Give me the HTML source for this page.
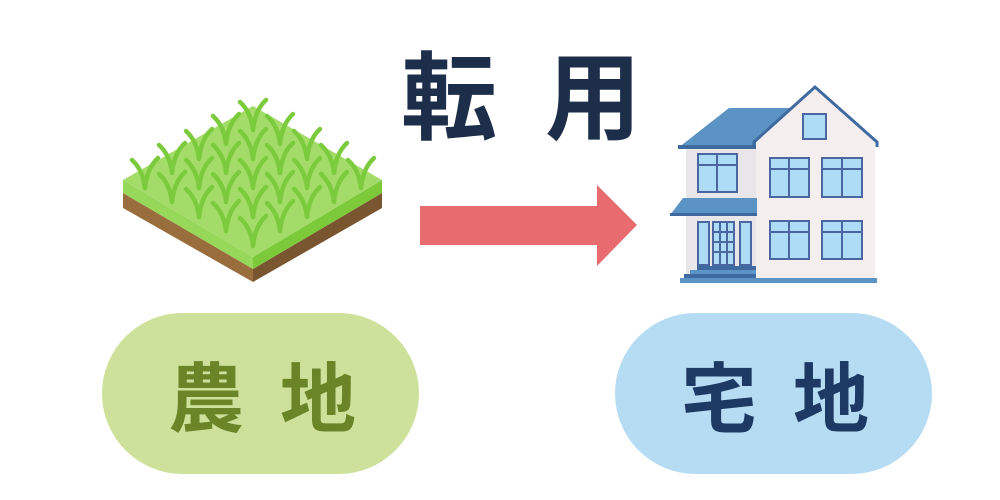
<!DOCTYPE html>
<html><head><meta charset="utf-8"><style>
html,body{margin:0;padding:0;background:#fff;width:1000px;height:500px;overflow:hidden}
svg{display:block}
text{font-family:"Liberation Sans","Noto Sans CJK JP",sans-serif;font-weight:bold}
</style></head><body>
<svg width="1000" height="500" viewBox="0 0 1000 500">
<text x="401" y="132" font-size="96" fill="#1c2e4a" letter-spacing="48">転用</text>
<!-- grass tile -->
<polygon points="123,193 253,269 253,282 123,208" fill="#9a6e3c"/>
<polygon points="253,269 382,193 382,208 253,282" fill="#7a5630"/>
<polygon points="123,180 253,257 253,269 123,193" fill="#97d85a"/>
<polygon points="253,257 382,180 382,193 253,269" fill="#7cc93a"/>
<polygon points="123,180 253,106 382,180 253,257" fill="#a3dc68"/>
<defs><g id="bl" stroke="#7ccb3e" stroke-width="4.5" fill="none" stroke-linecap="round"><path d="M0,0 q-2,-18 -13,-28 M0,0 q2,-20 13,-30"/></g></defs>
<use href="#bl" x="253" y="130"/><use href="#bl" x="226" y="144"/><use href="#bl" x="199" y="159"/><use href="#bl" x="172" y="173"/><use href="#bl" x="145" y="188"/>
<use href="#bl" x="280" y="144"/><use href="#bl" x="253" y="159"/><use href="#bl" x="226" y="173"/><use href="#bl" x="199" y="188"/><use href="#bl" x="172" y="202"/>
<use href="#bl" x="307" y="159"/><use href="#bl" x="280" y="173"/><use href="#bl" x="253" y="188"/><use href="#bl" x="226" y="202"/><use href="#bl" x="199" y="217"/>
<use href="#bl" x="334" y="173"/><use href="#bl" x="307" y="188"/><use href="#bl" x="280" y="202"/><use href="#bl" x="253" y="217"/><use href="#bl" x="226" y="231"/>
<use href="#bl" x="361" y="188"/><use href="#bl" x="334" y="202"/><use href="#bl" x="307" y="217"/><use href="#bl" x="280" y="231"/><use href="#bl" x="253" y="246"/>
<!-- arrow -->
<polygon points="420,206 597,206 597,185 637,225 597,266 597,245 420,245" fill="#e86b6f"/>
<!-- house -->
<rect x="686" y="147" width="72" height="131" fill="#e9e6ea"/>
<polygon points="756,142 815,88 875,142 875,278 756,278" fill="#f4efee"/>
<polygon points="678,148 729,108 792,108 756,142 756,148" fill="#5b93c4"/>
<rect x="678" y="145" width="78" height="4" fill="#3f6aa0"/>
<polyline points="754,146 754,142 815,87 877,142 877,147" fill="none" stroke="#3f6aa0" stroke-width="3"/>
<polygon points="683,198 757,198 757,215 670,215" fill="#5b93c4"/>
<rect x="670" y="213" width="87" height="3" fill="#3f6aa0"/>
<g fill="#aedcf7" stroke="#4a67a2" stroke-width="2">
<rect x="803" y="114" width="23" height="25"/>
<rect x="698" y="154" width="39" height="38"/>
<rect x="770" y="158" width="39" height="39"/><rect x="822" y="158" width="40" height="39"/>
<rect x="770" y="221" width="39" height="38"/><rect x="822" y="221" width="40" height="38"/>
<rect x="698" y="222" width="11" height="43"/><rect x="740" y="222" width="11" height="43"/>
<rect x="713" y="222" width="21" height="43"/>
</g>
<g stroke="#4a67a2" stroke-width="2" fill="none">
<path d="M698,165 h39 M717,154 v38 M770,169 h39 M789,158 v39 M822,169 h40 M842,158 v39 M770,232 h39 M789,221 v38 M822,232 h40 M842,221 v38"/>
<path d="M720,222 v43 M727,222 v43 M713,232 h21 M713,242 h21 M713,252 h21"/>
</g>
<rect x="697" y="266" width="59" height="5" fill="#3f6aa0"/>
<rect x="690" y="270" width="66" height="5" fill="#5b93c4"/>
<rect x="684" y="274" width="72" height="5" fill="#3f6aa0"/>
<rect x="680" y="278" width="197" height="5" fill="#5b93c4"/>
<!-- pills -->
<rect x="102" y="313" width="317" height="161" rx="80.5" fill="#cde19a"/>
<text x="168" y="426" font-size="76" fill="#6a8527" letter-spacing="36">農地</text>
<rect x="615" y="313" width="317" height="161" rx="80.5" fill="#b6dcf3"/>
<text x="681" y="426" font-size="76" fill="#1c3a63" letter-spacing="36">宅地</text>
</svg>
</body></html>
